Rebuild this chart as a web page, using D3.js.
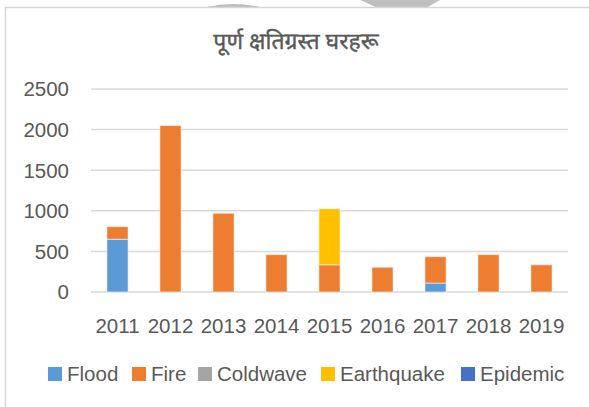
<!DOCTYPE html>
<html>
<head>
<meta charset="utf-8">
<script src="https://cdn.jsdelivr.net/npm/d3@7"></script>
<style>
  body { margin: 0; background: #fff; }
  svg { display: block; }
  text { font-family: "Liberation Sans", "DejaVu Sans", sans-serif; fill: #595959; }
  .chartTitle { font-family: "Noto Sans Devanagari", "Lohit Devanagari", "Mukta", "Noto Sans", sans-serif; }
</style>
</head>
<body>
<div id="chart"></div>
<script>
// data
var years = ["2011", "2012", "2013", "2014", "2015", "2016", "2017", "2018", "2019"];
var seriesNames = ["Flood", "Fire", "Coldwave", "Earthquake", "Epidemic"];
var flood      = [650, 0, 0, 0, 0, 0, 110, 0, 0];
var fire       = [155, 2050, 970, 460, 335, 305, 325, 460, 335];
var coldwave   = [0, 0, 0, 0, 0, 0, 0, 0, 0];
var earthquake = [0, 0, 0, 0, 690, 0, 0, 0, 0];
var epidemic   = [0, 0, 0, 0, 0, 0, 0, 0, 0];
var yTicks = [0, 500, 1000, 1500, 2000, 2500];
var colors = ["#5B9BD5", "#ED7D31", "#A5A5A5", "#FFC000", "#4472C4"];

var width = 589, height = 407;
var margin = {top: 89, right: 21, bottom: 115, left: 91};
var innerW = width - margin.left - margin.right,
    innerH = height - margin.top - margin.bottom;

var svg = d3.select("#chart").append("svg")
  .attr("width", width)
  .attr("height", height);

// faint shapes peeking in at the top edge
svg.append("path")
  .attr("d", "M207,7 Q233,1 260,7 Z")
  .attr("fill", "#bdbdbd");
svg.append("path")
  .attr("d", "M360,0 L440,0 L426,8 L378,8 Z")
  .attr("fill", "#bfbfbf");

// frame
svg.append("path")
  .attr("d", "M5.5," + height + " L5.5,7.5 L" + width + ",7.5")
  .attr("fill", "none")
  .style("stroke", "#d6d6d6")
  .style("stroke-width", 1.5);

svg.append("text")
  .attr("class", "chartTitle")
  .attr("x", 296)
  .attr("y", 49)
  .attr("text-anchor", "middle")
  .attr("font-size", 23)
  .style("stroke", "#595959")
  .style("stroke-width", 0.4)
  .text("पूर्ण क्षतिग्रस्त घरहरू");

var table = years.map(function(y, i) {
  return {year: y, Flood: flood[i], Fire: fire[i], Coldwave: coldwave[i],
          Earthquake: earthquake[i], Epidemic: epidemic[i]};
});

var stacked = d3.stack().keys(seriesNames)(table);

var x = d3.scaleBand()
  .domain(years)
  .range([0, innerW])
  .paddingInner(0.6)
  .paddingOuter(0.3);

var y = d3.scaleLinear()
  .domain([0, 2500])
  .range([innerH, 0]);

var g = svg.append("g")
  .attr("transform", "translate(" + margin.left + "," + margin.top + ")");

// gridlines
g.append("g")
  .selectAll("line")
  .data(yTicks)
  .enter().append("line")
  .attr("x1", 0)
  .attr("x2", innerW)
  .attr("y1", function(d) { return y(d); })
  .attr("y2", function(d) { return y(d); })
  .style("stroke", "#d9d9d9")
  .style("stroke-width", 1.5);

// y labels
g.append("g")
  .selectAll("text")
  .data(yTicks)
  .enter().append("text")
  .attr("x", -22)
  .attr("y", function(d) { return y(d); })
  .attr("dy", "0.36em")
  .attr("text-anchor", "end")
  .attr("font-size", 20.5)
  .text(function(d) { return d; });

// bars
g.append("g")
  .selectAll("g")
  .data(stacked)
  .enter().append("g")
  .attr("fill", function(d, i) { return colors[i]; })
  .selectAll("rect")
  .data(function(d) { return d.filter(function(p) { return p[1] - p[0] > 0; }); })
  .enter().append("rect")
  .attr("x", function(d) { return x(d.data.year); })
  .attr("y", function(d) { return y(d[1]); })
  .attr("width", x.bandwidth())
  .attr("height", function(d) { return y(d[0]) - y(d[1]); })
  .style("stroke", "rgba(255,255,255,0.55)")
  .style("stroke-width", 1);

// x labels
g.append("g")
  .selectAll("text")
  .data(years)
  .enter().append("text")
  .attr("x", function(d) { return x(d) + x.bandwidth() / 2; })
  .attr("y", innerH + 41)
  .attr("text-anchor", "middle")
  .attr("font-size", 20.5)
  .text(function(d) { return d; });

// legend
var legendX = [48, 132, 198, 321, 461];
var legend = svg.append("g")
  .selectAll("g")
  .data(seriesNames)
  .enter().append("g")
  .attr("transform", function(d, i) { return "translate(" + legendX[i] + ",367)"; });

legend.append("rect")
  .attr("width", 14)
  .attr("height", 14)
  .attr("fill", function(d, i) { return colors[i]; });

legend.append("text")
  .attr("x", 19)
  .attr("y", 7)
  .attr("dy", "0.36em")
  .attr("font-size", 20.5)
  .text(function(d) { return d; });
</script>
</body>
</html>
